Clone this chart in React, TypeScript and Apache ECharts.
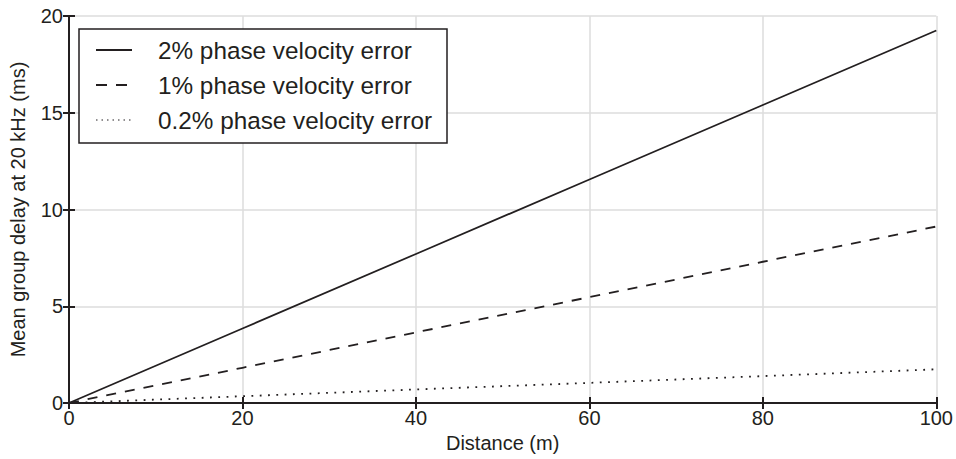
import React, { useEffect, useRef } from "react";
import * as echarts from "echarts";

const distances = [0, 20, 40, 60, 80, 100];
const err2 = [0, 3.85, 7.7, 11.55, 15.4, 19.25];
const err1 = [0, 1.82, 3.65, 5.47, 7.3, 9.12];
const err02 = [0, 0.35, 0.7, 1.04, 1.39, 1.74];
const seriesNames = [
  "2% phase velocity error",
  "1% phase velocity error",
  "0.2% phase velocity error",
];
const xTitle = "Distance (m)";
const yTitle = "Mean group delay at 20 kHz (ms)";

const INK = "#231f20";
const FONT = "'Liberation Sans', Arial, Helvetica, sans-serif";

export default function App() {
  const ref = useRef<HTMLDivElement>(null);
  useEffect(() => {
    if (!ref.current) return;
    const chart = echarts.init(ref.current, undefined, { renderer: "svg" });
    const pair = (ys: number[]) => distances.map((d, i) => [d, ys[i]]);
    const axisCommon = {
      axisLine: { show: true, lineStyle: { color: INK, width: 2 } },
      axisTick: { show: true, inside: true, length: 6, lineStyle: { color: INK, width: 2 } },
    };
    const legendRows = [
      { y: 50, dash: null as number[] | null },
      { y: 85, dash: [11, 9] },
      { y: 120, dash: [1.5, 4] },
    ];
    const graphics: any[] = [
      {
        type: "rect",
        shape: { x: 79, y: 29, width: 368, height: 114 },
        style: { fill: "#fff", stroke: INK, lineWidth: 1.5 },
        z: 100,
      },
    ];
    legendRows.forEach((r, i) => {
      graphics.push({
        type: "line",
        shape: { x1: 96, y1: r.y, x2: 132, y2: r.y },
        style: { stroke: INK, lineWidth: i === 2 ? 1.2 : 1.8, lineDash: r.dash || undefined },
        z: 101,
      });
      graphics.push({
        type: "text",
        x: 158,
        y: r.y,
        style: {
          text: seriesNames[i],
          font: `24.3px ${FONT}`,
          fill: INK,
          verticalAlign: "middle",
          align: "left",
        },
        z: 101,
      });
    });
    chart.setOption({
      animation: false,
      backgroundColor: "#fff",
      textStyle: { fontFamily: FONT },
      grid: { left: 68, right: 18, top: 16, bottom: 56 },
      xAxis: [
        {
          type: "value",
          min: 0,
          max: 100,
          interval: 20,
          name: xTitle,
          nameLocation: "middle",
          nameGap: 24,
          nameTextStyle: { fontSize: 20, color: INK, fontFamily: FONT },
          axisLabel: { fontSize: 20, color: INK, margin: 5, fontFamily: FONT },
          splitLine: { show: true, lineStyle: { color: "#dcdcdc", width: 1.5 } },
          ...axisCommon,
        },
        {
          type: "value",
          position: "top",
          min: 0,
          max: 100,
          interval: 20,
          axisLabel: { show: false },
          splitLine: { show: false },
          ...axisCommon,
        },
      ],
      yAxis: [
        {
          type: "value",
          min: 0,
          max: 20,
          interval: 5,
          name: yTitle,
          nameLocation: "middle",
          nameGap: 41,
          nameTextStyle: { fontSize: 20, color: INK, fontFamily: FONT },
          axisLabel: { fontSize: 20, color: INK, margin: 6, fontFamily: FONT },
          splitLine: { show: true, lineStyle: { color: "#dcdcdc", width: 1.5 } },
          ...axisCommon,
        },
        {
          type: "value",
          position: "right",
          min: 0,
          max: 20,
          interval: 5,
          axisLabel: { show: false },
          splitLine: { show: false },
          ...axisCommon,
        },
      ],
      series: [
        {
          name: seriesNames[0],
          type: "line",
          data: pair(err2),
          showSymbol: false,
          symbol: "none",
          lineStyle: { color: INK, width: 1.8, type: "solid" },
          z: 5,
        },
        {
          name: seriesNames[1],
          type: "line",
          data: pair(err1),
          showSymbol: false,
          symbol: "none",
          lineStyle: { color: INK, width: 1.8, type: [10, 9] },
          z: 5,
        },
        {
          name: seriesNames[2],
          type: "line",
          data: pair(err02),
          showSymbol: false,
          symbol: "none",
          lineStyle: { color: INK, width: 1.8, type: [1.8, 6.5] },
          z: 5,
        },
      ],
      graphic: graphics,
    });
    return () => chart.dispose();
  }, []);
  return (
    <div
      ref={ref}
      style={{ position: "fixed", left: 0, top: 0, width: 956, height: 459 }}
    />
  );
}
